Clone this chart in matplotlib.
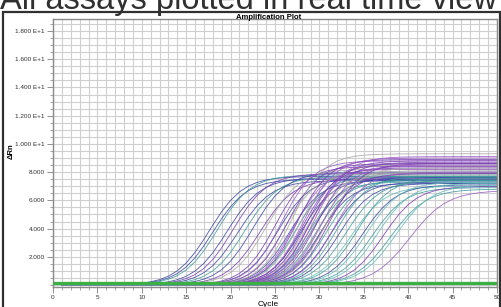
import numpy as np
import matplotlib
matplotlib.use("Agg")
import matplotlib.pyplot as plt
from matplotlib.patches import Rectangle
from matplotlib.ticker import MultipleLocator

plt.rcParams['font.family'] = ['Liberation Sans', 'DejaVu Sans']

# cycles
cycles = np.arange(1, 51)

# per-curve parameters: midpoint cycle, plateau dRn, steepness, colour key
mids = [17.6, 18.0, 18.5, 19.6, 20.3, 20.8, 21.6, 22.5, 23.3, 24.0,
        25.0, 25.3, 25.7, 26.0, 26.3, 26.6, 26.9, 27.1, 27.3, 27.5,
        27.7, 27.9, 28.1, 28.2, 28.4, 28.5, 28.7, 28.8, 29.0, 29.1,
        29.3, 29.4, 29.6, 29.7, 29.9, 30.0, 30.2, 30.4, 30.6, 30.8,
        31.0, 31.3, 31.6, 31.9, 32.2,
        33.0, 33.6, 34.2, 34.8, 35.3, 35.9, 36.5, 37.2, 38.0, 38.6, 40.2]
plateaus = [7.7, 7.5, 7.8, 7.6, 7.9, 7.4, 7.7, 8.0, 7.5, 8.2,
            8.4, 7.6, 8.8, 7.9, 8.6, 7.4, 9.3, 8.2, 7.7, 8.9,
            8.5, 7.5, 8.3, 9.0, 7.8, 8.6, 7.3, 8.4, 8.8, 7.6,
            8.1, 9.1, 7.4, 8.7, 8.0, 7.2, 8.5, 7.9, 8.3, 7.5,
            8.6, 7.3, 8.0, 7.7, 7.2,
            7.4, 7.0, 7.6, 7.1, 7.3, 6.9, 7.2, 7.0, 6.8, 7.1, 6.7]
slopes = [1.9, 1.9, 1.9, 1.9, 1.9, 1.9, 1.9, 1.9, 1.9, 1.9,
          1.8, 1.8, 1.8, 1.8, 1.8, 1.8, 1.8, 1.8, 1.8, 1.8,
          1.8, 1.8, 1.8, 1.8, 1.8, 1.8, 1.8, 1.8, 1.8, 1.8,
          1.8, 1.8, 1.8, 1.8, 1.8, 1.8, 1.8, 1.8, 1.8, 1.8,
          1.8, 1.8, 1.8, 1.8, 1.8,
          1.9, 1.9, 1.9, 1.9, 1.9, 1.9, 1.9, 1.9, 2.0, 2.0, 2.1]
kinds = ['B', 'B', 'T', 'B', 'P', 'B', 'T', 'B', 'P', 'G',
         'P', 'B', 'V', 'G', 'P', 'B', 'G', 'V', 'T', 'P',
         'G', 'B', 'P', 'V', 'G', 'P', 'T', 'V', 'P', 'B',
         'G', 'V', 'T', 'P', 'G', 'B', 'V', 'P', 'G', 'T',
         'P', 'B', 'V', 'T', 'B',
         'T', 'C', 'T', 'B', 'C', 'T', 'C', 'P', 'T', 'C', 'V']
palette = {'B': '#3b47a3', 'P': '#7a3db3', 'V': '#9a5cc6', 'G': '#a6a6a6',
           'T': '#3f9c9c', 'C': '#62bdb6'}

threshold = 0.15

x_ticks = [0, 5, 10, 15, 20, 25, 30, 35, 40, 45, 50]
y_ticks = [2, 4, 6, 8, 10, 12, 14, 16, 18]
y_tick_labels = ['2.000', '4.000', '6.000', '8.000', '1.000 E+1',
                 '1.200 E+1', '1.400 E+1', '1.600 E+1', '1.800 E+1']

fig = plt.figure(figsize=(5.02, 3.07), dpi=100)
fig.patch.set_facecolor('white')

# outer frame of the screenshot window
fig.patches.append(Rectangle((3 / 502, -0.05), 497 / 502, 1 - 12 / 307 + 0.05,
                             transform=fig.transFigure, fill=False,
                             edgecolor='#303030', linewidth=1.6))

fig.text(0.0, 1 - 9.5 / 307, 'All assays plotted in real time view',
         fontsize=23.5, color='#303030', ha='left', va='baseline')
fig.text(0.535, 1 - 17.5 / 307, 'Amplification Plot', fontsize=5.5,
         fontweight='bold', ha='center', va='center')

ax = fig.add_axes([53 / 502, 1 - 287 / 307, 444 / 502, 268 / 307])
ax.set_xlim(0, 50)
ax.set_ylim(-0.14, 18.85)

for m, p, s, k in zip(mids, plateaus, slopes, kinds):
    f = p / (1 + np.exp(-(cycles - m) / s))
    ax.plot(cycles, f, color=palette[k], linewidth=0.6, alpha=0.9)

ax.axhline(threshold, color='#3cb043', linewidth=2.4, zorder=5)

ax.set_xticks(x_ticks)
ax.set_yticks(y_ticks)
ax.set_yticklabels(y_tick_labels)
ax.xaxis.set_minor_locator(MultipleLocator(1))
ax.yaxis.set_minor_locator(MultipleLocator(0.5))
ax.grid(True, which='both', color='#cfcfcf', linewidth=0.8)
ax.set_axisbelow(True)
ax.tick_params(which='major', length=4, width=0.6, color='#808080',
               labelsize=4.6, pad=2, labelcolor='#303030')
ax.tick_params(which='minor', length=2, width=0.5, color='#808080')
for sp in ax.spines.values():
    sp.set_color('#8a8a8a')
    sp.set_linewidth(1.0)

fig.text(11 / 502, 1 - 151 / 307, 'ΔRn', rotation=90, fontsize=5.5,
         fontweight='bold', ha='center', va='center')
fig.text(268 / 502, 1 - 305 / 307, 'Cycle', fontsize=6, ha='center',
         va='center')

fig.savefig('out.png', dpi=100)
